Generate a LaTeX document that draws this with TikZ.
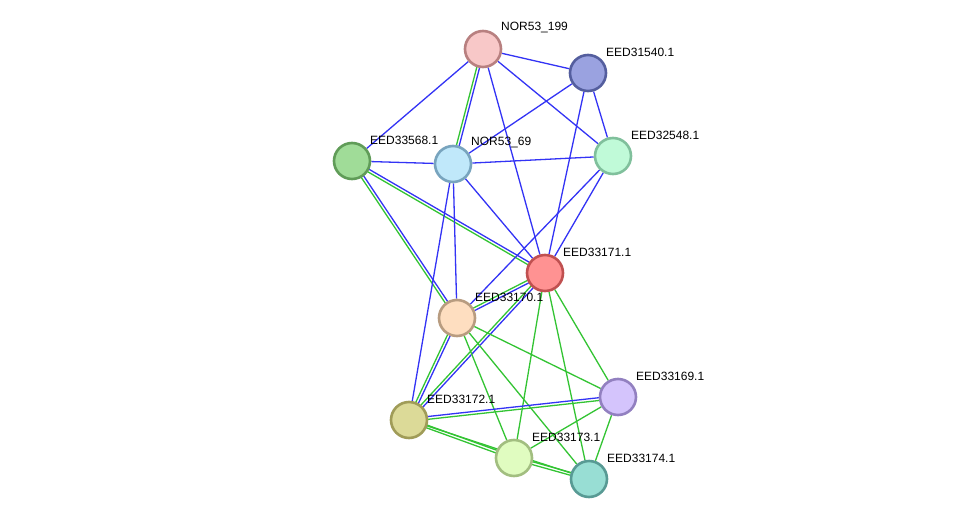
\documentclass[tikz,border=0pt]{standalone}
\usepackage{fontspec}
\setmainfont{Liberation Sans}
\usetikzlibrary{calc,backgrounds}
\definecolor{eb}{HTML}{3333F5}
\definecolor{eg}{HTML}{33C433}
\tikzset{
  prot/.style={circle, minimum size=36pt, inner sep=0pt, line width=2.6pt},
  lab/.style={anchor=west, font=\fontsize{12pt}{12pt}\selectfont, inner sep=0pt},
  eblue/.style={draw=eb, line width=1.3pt},
  egreen/.style={draw=eg, line width=1.3pt}
}
\newcommand{\sgl}[3]{\draw[#3] (#1) -- (#2);}
\newcommand{\dbl}[4]{%
  \draw[#3] ($(#1)!1.4pt!90:(#2)$) -- ($(#2)!1.4pt!-90:(#1)$);%
  \draw[#4] ($(#1)!1.4pt!-90:(#2)$) -- ($(#2)!1.4pt!90:(#1)$);}
\begin{document}
\begin{tikzpicture}[x=1pt,y=-1pt]
\useasboundingbox (0,0) rectangle (975,525);
\node[prot, fill={rgb,255:red,248;green,200;blue,200}, draw={rgb,255:red,184;green,128;blue,128}] (n199) at (483,49) {};
\node[prot, fill={rgb,255:red,154;green,162;blue,224}, draw={rgb,255:red,84;green,94;blue,158}] (n540) at (588,73) {};
\node[prot, fill={rgb,255:red,160;green,220;blue,152}, draw={rgb,255:red,96;green,156;blue,88}] (n568) at (352,161) {};
\node[prot, fill={rgb,255:red,192;green,232;blue,250}, draw={rgb,255:red,120;green,164;blue,190}] (n69) at (453,164) {};
\node[prot, fill={rgb,255:red,192;green,250;blue,216}, draw={rgb,255:red,128;green,192;blue,156}] (n548) at (613,156) {};
\node[prot, fill={rgb,255:red,255;green,146;blue,146}, draw={rgb,255:red,192;green,80;blue,80}] (n171) at (545,273) {};
\node[prot, fill={rgb,255:red,254;green,222;blue,192}, draw={rgb,255:red,184;green,156;blue,128}] (n170) at (457,318) {};
\node[prot, fill={rgb,255:red,212;green,196;blue,252}, draw={rgb,255:red,146;green,128;blue,192}] (n169) at (618,397) {};
\node[prot, fill={rgb,255:red,220;green,218;blue,152}, draw={rgb,255:red,160;green,156;blue,88}] (n172) at (409,420) {};
\node[prot, fill={rgb,255:red,224;green,252;blue,192}, draw={rgb,255:red,162;green,190;blue,128}] (n173) at (514,458) {};
\node[prot, fill={rgb,255:red,152;green,222;blue,212}, draw={rgb,255:red,88;green,154;blue,148}] (n174) at (589,479) {};
\begin{scope}[on background layer]
\fill[white] (0,0) rectangle (975,525);
\sgl{n199}{n540}{eblue}
\sgl{n199}{n568}{eblue}
\dbl{n199}{n69}{eblue}{egreen}
\sgl{n199}{n171}{eblue}
\sgl{n199}{n548}{eblue}
\sgl{n540}{n69}{eblue}
\sgl{n540}{n171}{eblue}
\sgl{n540}{n548}{eblue}
\sgl{n568}{n69}{eblue}
\sgl{n69}{n548}{eblue}
\dbl{n568}{n171}{eblue}{egreen}
\dbl{n568}{n170}{eblue}{egreen}
\sgl{n69}{n171}{eblue}
\sgl{n69}{n170}{eblue}
\sgl{n69}{n172}{eblue}
\sgl{n548}{n171}{eblue}
\sgl{n548}{n170}{eblue}
\dbl{n171}{n170}{eblue}{egreen}
\dbl{n171}{n172}{eblue}{egreen}
\dbl{n170}{n172}{eblue}{egreen}
\sgl{n171}{n173}{egreen}
\sgl{n171}{n174}{egreen}
\sgl{n171}{n169}{egreen}
\sgl{n170}{n169}{egreen}
\sgl{n170}{n173}{egreen}
\sgl{n170}{n174}{egreen}
\dbl{n172}{n169}{eblue}{egreen}
\dbl{n172}{n173}{egreen}{egreen}
\sgl{n172}{n174}{egreen}
\dbl{n173}{n174}{egreen}{egreen}
\sgl{n169}{n173}{egreen}
\sgl{n169}{n174}{egreen}
\end{scope}
\node[lab] (l199) at ($(n199)+(18,-21)$) {NOR53\_199};
\node[lab] (l540) at ($(n540)+(18,-21)$) {EED31540.1};
\node[lab] (l568) at ($(n568)+(18,-21)$) {EED33568.1};
\node[lab] (l69) at ($(n69)+(18,-21)$) {NOR53\_69};
\node[lab] (l548) at ($(n548)+(18,-21)$) {EED32548.1};
\node[lab] (l171) at ($(n171)+(18,-21)$) {EED33171.1};
\node[lab] (l170) at ($(n170)+(18,-21)$) {EED33170.1};
\node[lab] (l169) at ($(n169)+(18,-21)$) {EED33169.1};
\node[lab] (l172) at ($(n172)+(18,-21)$) {EED33172.1};
\node[lab] (l173) at ($(n173)+(18,-21)$) {EED33173.1};
\node[lab] (l174) at ($(n174)+(18,-21)$) {EED33174.1};
\end{tikzpicture}
\end{document}
